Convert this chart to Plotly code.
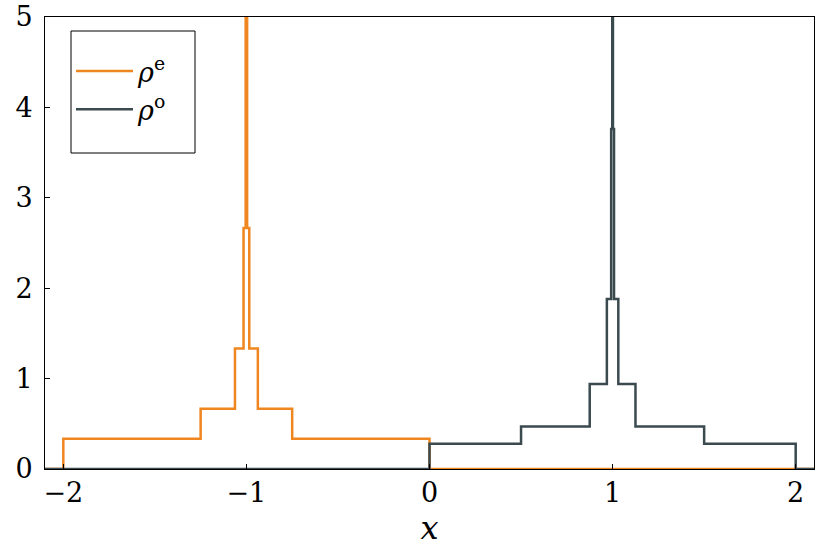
import plotly.graph_objects as go

# step edges and densities
x_even = [-2.1, -2.0, -1.25, -1.0625, -1.015625, -1.00390625, -0.99609375,
          -0.984375, -0.9375, -0.75, 0.0, 2.1]
rho_even = [0, 1/3, 2/3, 4/3, 8/3, 16/3, 8/3, 4/3, 2/3, 1/3, 0, 0]

x_odd = [-2.1, 0.0, 0.5, 0.875, 0.96875, 0.9921875, 0.998046875, 1.001953125,
         1.0078125, 1.03125, 1.125, 1.5, 2.0, 2.1]
rho_odd = [0, 0.28, 0.47, 0.94, 1.88, 3.76, 7.5, 3.76, 1.88, 0.94, 0.47, 0.28, 0, 0]

x_ticks = [-2, -1, 0, 1, 2]
x_ticklabels = ["\u22122", "\u22121", "0", "1", "2"]
y_ticks = [0, 1, 2, 3, 4, 5]

ORANGE = "#EF861F"
DARK = "#3A4A4F"
FONT = "DejaVu Serif"

W, H = 830, 554
ML, MR, MT, MB = 45, 16, 17, 85
PW, PH = W - ML - MR, H - MT - MB

fig = go.Figure()
fig.add_trace(go.Scatter(x=x_even, y=rho_even, mode="lines", line_shape="hv",
                         line=dict(color=ORANGE, width=2.5),
                         name="<i>\u03c1</i><sup>e</sup>"))
fig.add_trace(go.Scatter(x=x_odd, y=rho_odd, mode="lines", line_shape="hv",
                         line=dict(color=DARK, width=2.5),
                         name="<i>\u03c1</i><sup>o</sup>"))

fig.update_layout(
    width=W, height=H,
    margin=dict(l=ML, r=MR, t=MT, b=MB, autoexpand=False),
    plot_bgcolor="white", paper_bgcolor="white",
    font=dict(family=FONT, size=27, color="black"),
    showlegend=True,
    legend=dict(x=(71 - 45) / PW, y=1 - (47 - 17) / PH, xanchor="left", yanchor="top",
                bgcolor="rgba(0,0,0,0)", borderwidth=0,
                font=dict(family=FONT, size=27), itemwidth=57),
    xaxis=dict(range=[-2.1, 2.1], tickvals=x_ticks, ticktext=x_ticklabels,
               ticks="inside", ticklen=5, tickcolor="black", showgrid=False,
               zeroline=False, showline=True, linecolor="black", linewidth=1,
               mirror=True, automargin=False, ticklabelstandoff=0,
               ticklabeloverflow="allow",
               title=dict(text="<i>x</i>", standoff=9)),
    yaxis=dict(range=[0, 5], tickvals=y_ticks, ticks="inside", ticklen=5,
               tickcolor="black", showgrid=False, zeroline=False,
               showline=True, linecolor="black", linewidth=1, mirror=True,
               automargin=False, ticklabelstandoff=6, ticklabeloverflow="allow"),
    shapes=[dict(type="rect", xref="paper", yref="paper",
                 x0=(71 - 45) / PW, x1=(195 - 45) / PW,
                 y0=1 - (153 - 17) / PH, y1=1 - (31 - 17) / PH,
                 line=dict(color="black", width=1), fillcolor="rgba(0,0,0,0)")],
)

fig.write_html("out.html", config={"displayModeBar": False},
               post_script="document.body.style.margin='0';")
